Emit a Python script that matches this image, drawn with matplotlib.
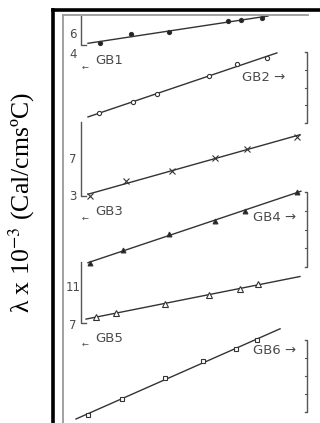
import matplotlib
matplotlib.use('Agg')
import matplotlib.pyplot as plt
import numpy as np

# data (arbitrary units, x: 0-100 across the panel, y: 0-100 bottom to top)
gb1_x = [15.1, 27.8, 43.3, 67.3, 72.7, 81.2]
gb1_y = [93.1, 95.3, 95.8, 98.5, 98.8, 99.3]
gb2_x = [14.7, 28.6, 38.4, 59.6, 71.0, 83.3]
gb2_y = [76.0, 78.7, 80.6, 85.0, 88.0, 89.5]
gb3_x = [11.0, 25.7, 44.5, 62.0, 75.1, 95.5]
gb3_y = [55.6, 59.3, 61.8, 65.0, 67.2, 70.1]
gb4_x = [11.0, 24.5, 43.3, 62.0, 74.3, 95.5]
gb4_y = [39.2, 42.4, 46.3, 49.5, 52.0, 56.6]
gb5_x = [13.5, 21.6, 41.6, 59.6, 72.2, 79.6]
gb5_y = [26.0, 27.0, 29.2, 31.4, 32.8, 34.1]
gb6_x = [10.2, 24.1, 41.6, 57.1, 70.6, 79.2]
gb6_y = [2.0, 5.9, 11.0, 15.2, 18.1, 20.3]

names = ['GB1', 'GB2', 'GB3', 'GB4', 'GB5', 'GB6']
# x range covered by each fitted line
fit_ranges = [(10.2, 83.7), (10.2, 87.3), (10.2, 96.7), (10.2, 97.1), (9.4, 96.7), (5.3, 88.6)]

# left scale brackets (GB1, GB3, GB5): y range and tick labels
left_brackets = [(92.6, 99.8), (55.6, 73.8), (24.6, 39.5)]
left_labels = [[('6', 95.1), ('4', 90.2)], [('7', 64.5), ('3', 55.4)], [('11', 33.1), ('7', 24.0)]]
# right scale brackets (GB2, GB4, GB6)
right_brackets = [(73.5, 90.9), (38.2, 56.6), (2.7, 20.3)]

fig = plt.figure(figsize=(3.2, 4.23), dpi=100)

# outer black frame (left + top only)
outer = fig.add_axes([53/320, 0, 267/320, 413/423])
outer.set_xticks([]); outer.set_yticks([])
for s in ['right', 'bottom']:
    outer.spines[s].set_visible(False)
for s in ['left', 'top']:
    outer.spines[s].set_linewidth(2.6)
outer.patch.set_alpha(0)

ax = fig.add_axes([63/320, 0, 245/320, 408/423])
ax.set_xlim(0, 100)
ax.set_ylim(0, 100)
ax.set_xticks([]); ax.set_yticks([])
for s in ['right', 'bottom']:
    ax.spines[s].set_visible(False)
for s in ['left', 'top']:
    ax.spines[s].set_color('#9a9a9a')
    ax.spines[s].set_linewidth(1.3)
ax.patch.set_alpha(0)

xs = [gb1_x, gb2_x, gb3_x, gb4_x, gb5_x, gb6_x]
ys = [gb1_y, gb2_y, gb3_y, gb4_y, gb5_y, gb6_y]
markers = [dict(marker='o', mfc='#222222', ms=3.0),
           dict(marker='o', mfc='white', ms=3.0),
           dict(marker='x', mfc='none', ms=3.8),
           dict(marker='^', mfc='#222222', ms=3.5),
           dict(marker='^', mfc='white', ms=3.8),
           dict(marker='s', mfc='white', ms=3.3)]

lc = '#333333'
for i in range(6):
    k, b = np.polyfit(xs[i], ys[i], 1)
    fx = np.array(fit_ranges[i])
    ax.plot(fx, k*fx + b, color=lc, lw=1.0, zorder=2)
    ax.plot(xs[i], ys[i], ls='none', color=lc, mec=lc, mew=0.8,
            zorder=3, **markers[i])

txt_font = ['DejaVu Sans']
gray = '#4a4a4a'

# left brackets with labels
for (y0, y1), labs, nm in zip(left_brackets, left_labels, names[0::2]):
    ax.plot([7.5, 7.5, 9.5], [y1, y0, y0], color='#555555', lw=1.0, clip_on=False)
    for t, yy in labs:
        ax.text(4.0, yy, t, fontsize=8.5, color=gray, ha='center', va='center',
                family=txt_font)
    ax.text(13.0, y0 - 3.8, nm, fontsize=9.5, color=gray, ha='left', va='center',
            family=txt_font)
    ax.text(9.0, y0 - 5.4, '←', fontsize=6, color=gray, ha='center', va='center',
            family=txt_font)

# right brackets with ticks and labels
label_pos = [(82.0, 84.7), (86.5, 50.3), (86.5, 17.8)]
for (y0, y1), nm, (lx, ly) in zip(right_brackets, names[1::2], label_pos):
    ax.plot([98.6, 99.6, 99.6, 98.6], [y1, y1, y0, y0], color='#555555', lw=1.0,
            clip_on=False)
    for yy in np.linspace(y0, y1, 5)[1:-1]:
        ax.plot([98.9, 99.6], [yy, yy], color='#555555', lw=0.8, clip_on=False)
    ax.text(lx, ly, nm + ' →', fontsize=9.5, color=gray, ha='center', va='center',
            family=txt_font)

fig.text(22/320, 1 - 203/423, 'λ x 10$^{-3}$ (Cal/cmsºC)', rotation=90,
         ha='center', va='center', fontsize=18.5, family='Liberation Serif',
         math_fontfamily='stix')

fig.savefig('out.png', dpi=100)
